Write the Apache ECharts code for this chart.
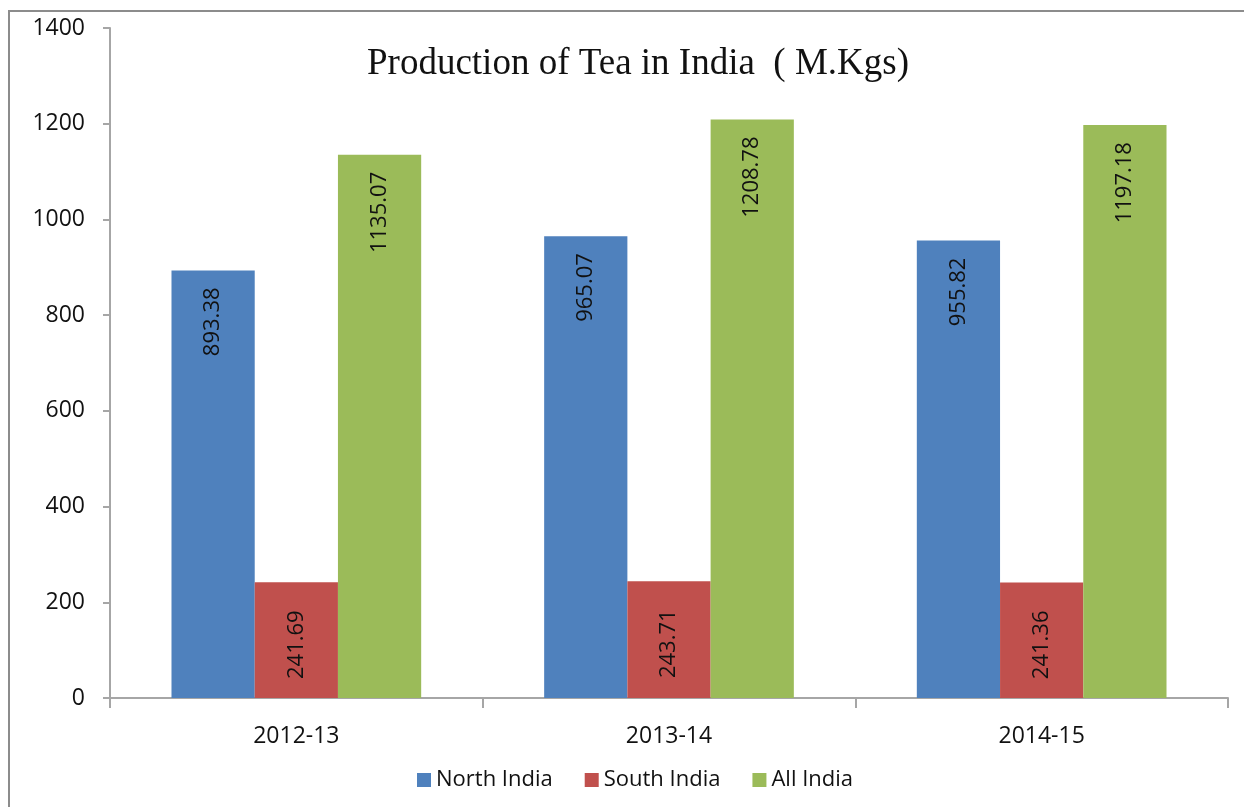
<!DOCTYPE html>
<html>
<head>
    <meta charset="utf-8">
    <title>Production of Tea in India</title>
    <script src="https://cdn.jsdelivr.net/npm/echarts@6/dist/echarts.min.js"></script>
    <style>
        html, body { margin: 0; padding: 0; background: #fff; }
    </style>
</head>
<body>
    <div id="myEcharts" style="width: 1244px;height:807px;"></div>
    <script type="text/javascript">
        // data
        var years = ['2012-13', '2013-14', '2014-15'];
        var northIndia = [893.38, 965.07, 955.82];
        var southIndia = [241.69, 243.71, 241.36];
        var allIndia = [1135.07, 1208.78, 1197.18];
        var yTicks = {min: 0, max: 1400, interval: 200};

        var myChart = echarts.init(document.getElementById('myEcharts'));
        var font = '"Open Sans", "Noto Sans", sans-serif';

        // rotated value label sitting inside the top of each bar
        function barLabel(dist) {
            return {
                show: true,
                position: 'insideTop',
                rotate: 90,
                align: 'right',
                verticalAlign: 'middle',
                distance: dist,
                color: '#111',
                fontSize: 22,
                fontFamily: font,
                formatter: function (p) { return p.value.toFixed(2); }
            };
        }

        var option = {
            animation: false,
            backgroundColor: '#fff',
            title: {
                text: 'Production of Tea in India  ( M.Kgs)',
                left: 362,
                top: 41,
                textStyle: {
                    fontFamily: '"Liberation Serif", "DejaVu Serif", serif',
                    fontWeight: 'normal',
                    fontSize: 37,
                    color: '#111'
                }
            },
            legend: {
                top: 764,
                left: 412,
                itemWidth: 14,
                itemHeight: 14,
                itemGap: 32,
                icon: 'rect',
                textStyle: {fontSize: 22, fontFamily: font, color: '#111'},
                data: ['North India', 'South India', 'All India']
            },
            graphic: [
                { // outer chart frame (only top and left edges visible)
                    type: 'polyline',
                    shape: {points: [[9, 807], [9, 11], [1244, 11]]},
                    style: {stroke: '#8c8c8c', lineWidth: 2, fill: null},
                    silent: true
                }
            ],
            grid: {
                left: 110,
                right: 16,
                top: 28,
                bottom: 109
            },
            xAxis: {
                type: 'category',
                data: years,
                axisLine: {lineStyle: {color: '#a6a6a6', width: 2}},
                axisTick: {show: true, length: 10, lineStyle: {color: '#a6a6a6', width: 2}},
                axisLabel: {margin: 27, fontSize: 23, fontFamily: font, color: '#111'},
                splitLine: {show: false}
            },
            yAxis: {
                type: 'value',
                min: yTicks.min,
                max: yTicks.max,
                interval: yTicks.interval,
                axisLine: {show: true, lineStyle: {color: '#a6a6a6', width: 2}},
                axisTick: {show: true, length: 7, lineStyle: {color: '#a6a6a6', width: 2}},
                axisLabel: {
                    margin: 25, fontSize: 23, fontFamily: font, color: '#111',
                    formatter: function (v) { return String(v); }
                },
                splitLine: {show: false}
            },
            series: [
                {
                    name: 'North India',
                    type: 'bar',
                    data: northIndia,
                    barGap: '0%',
                    barCategoryGap: '33%',
                    itemStyle: {color: '#4f81bd'},
                    label: barLabel(17)
                },
                {
                    name: 'South India',
                    type: 'bar',
                    data: southIndia,
                    itemStyle: {color: '#c0504d'},
                    label: barLabel(28)
                },
                {
                    name: 'All India',
                    type: 'bar',
                    data: allIndia,
                    itemStyle: {color: '#9bbb59'},
                    label: barLabel(17)
                }
            ]
        };
        myChart.setOption(option);
    </script>
</body>
</html>
